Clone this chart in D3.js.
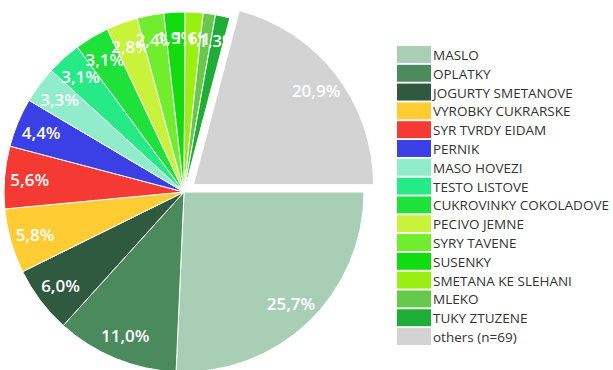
<!DOCTYPE html>
<html>
<head>
<meta charset="utf-8">
<script src="https://cdn.jsdelivr.net/npm/d3@7"></script>
<style>
  body { margin: 0; background: #fff; }
  svg { display: block; font-family: "Open Sans", "Noto Sans", sans-serif; }
  .slice-label { fill: #fff; font-size: 17px; font-weight: 600; }
  .legend text { fill: #333; font-size: 13.5px; }
</style>
</head>
<body>
<svg></svg>
<script>
// categories + shares (%)
const categories = ["MASLO", "OPLATKY", "JOGURTY SMETANOVE", "VYROBKY CUKRARSKE", "SYR TVRDY EIDAM",
  "PERNIK", "MASO HOVEZI", "TESTO LISTOVE", "CUKROVINKY COKOLADOVE", "PECIVO JEMNE",
  "SYRY TAVENE", "SUSENKY", "SMETANA KE SLEHANI", "MLEKO", "TUKY ZTUZENE", "others (n=69)"];
const shares = [25.7, 11.0, 6.0, 5.8, 5.6, 4.4, 3.3, 3.1, 3.1, 2.8, 2.4, 1.9, 1.6, 1.1, 1.3, 20.9];
const colors = ["#a8cfb6", "#4b8a5d", "#2f5a3f", "#ffcc33", "#f53a34", "#3b3fe6", "#90eccb", "#25ea86",
  "#1ee23a", "#c9f23a", "#70ee2e", "#10dc10", "#9aee10", "#66c94a", "#1fae35", "#d3d3d3"];

const width = 613, height = 370;
const cx = 184, cy = 192, radius = 180;

const svg = d3.select("svg").attr("width", width).attr("height", height);

const color = d3.scaleOrdinal().domain(categories).range(colors);

// start at 3 o'clock, go clockwise
const pie = d3.pie().sort(null).value(d => d.v)
  .startAngle(Math.PI / 2).endAngle(Math.PI / 2 + 2 * Math.PI);

const data = categories.map((c, i) => ({ name: c, v: shares[i] }));
const arcs = pie(data);

const arc = d3.arc().innerRadius(0).outerRadius(radius);
const labelArc = d3.arc().innerRadius(radius * 0.86).outerRadius(radius * 0.86);

const g = svg.append("g").attr("transform", `translate(${cx},${cy})`);

// others slice pulled out a bit
function offset(d) {
  if (d.data.name.startsWith("others")) {
    const a = (d.startAngle + d.endAngle) / 2;
    return [Math.sin(a) * 12, -Math.cos(a) * 12];
  }
  return [0, 0];
}

const slices = g.selectAll("g.slice")
  .data(arcs)
  .enter()
  .append("g")
  .attr("class", "slice")
  .attr("transform", d => `translate(${offset(d)})`);

slices.append("path")
  .attr("d", arc)
  .attr("fill", d => color(d.data.name))
  .attr("stroke", "#fff")
  .attr("stroke-width", 1);

slices.append("text")
  .attr("class", "slice-label")
  .attr("transform", d => `translate(${labelArc.centroid(d)})`)
  .attr("text-anchor", "middle")
  .attr("dominant-baseline", "central")
  .text(d => d3.format(".1f")(d.data.v).replace(".", ",") + "%");

// legend
const rowY = d3.scaleBand().domain(categories).range([46, 345]).paddingInner(0.1);

const legend = svg.append("g").attr("class", "legend");

const rows = legend.selectAll("g")
  .data(categories)
  .enter()
  .append("g")
  .attr("transform", d => `translate(397,${rowY(d)})`);

rows.append("rect")
  .attr("width", 34)
  .attr("height", rowY.bandwidth())
  .attr("fill", d => color(d));

rows.append("text")
  .attr("x", 36)
  .attr("y", rowY.bandwidth() / 2 + 0.5)
  .attr("dominant-baseline", "central")
  .text(d => d);
</script>
</body>
</html>
